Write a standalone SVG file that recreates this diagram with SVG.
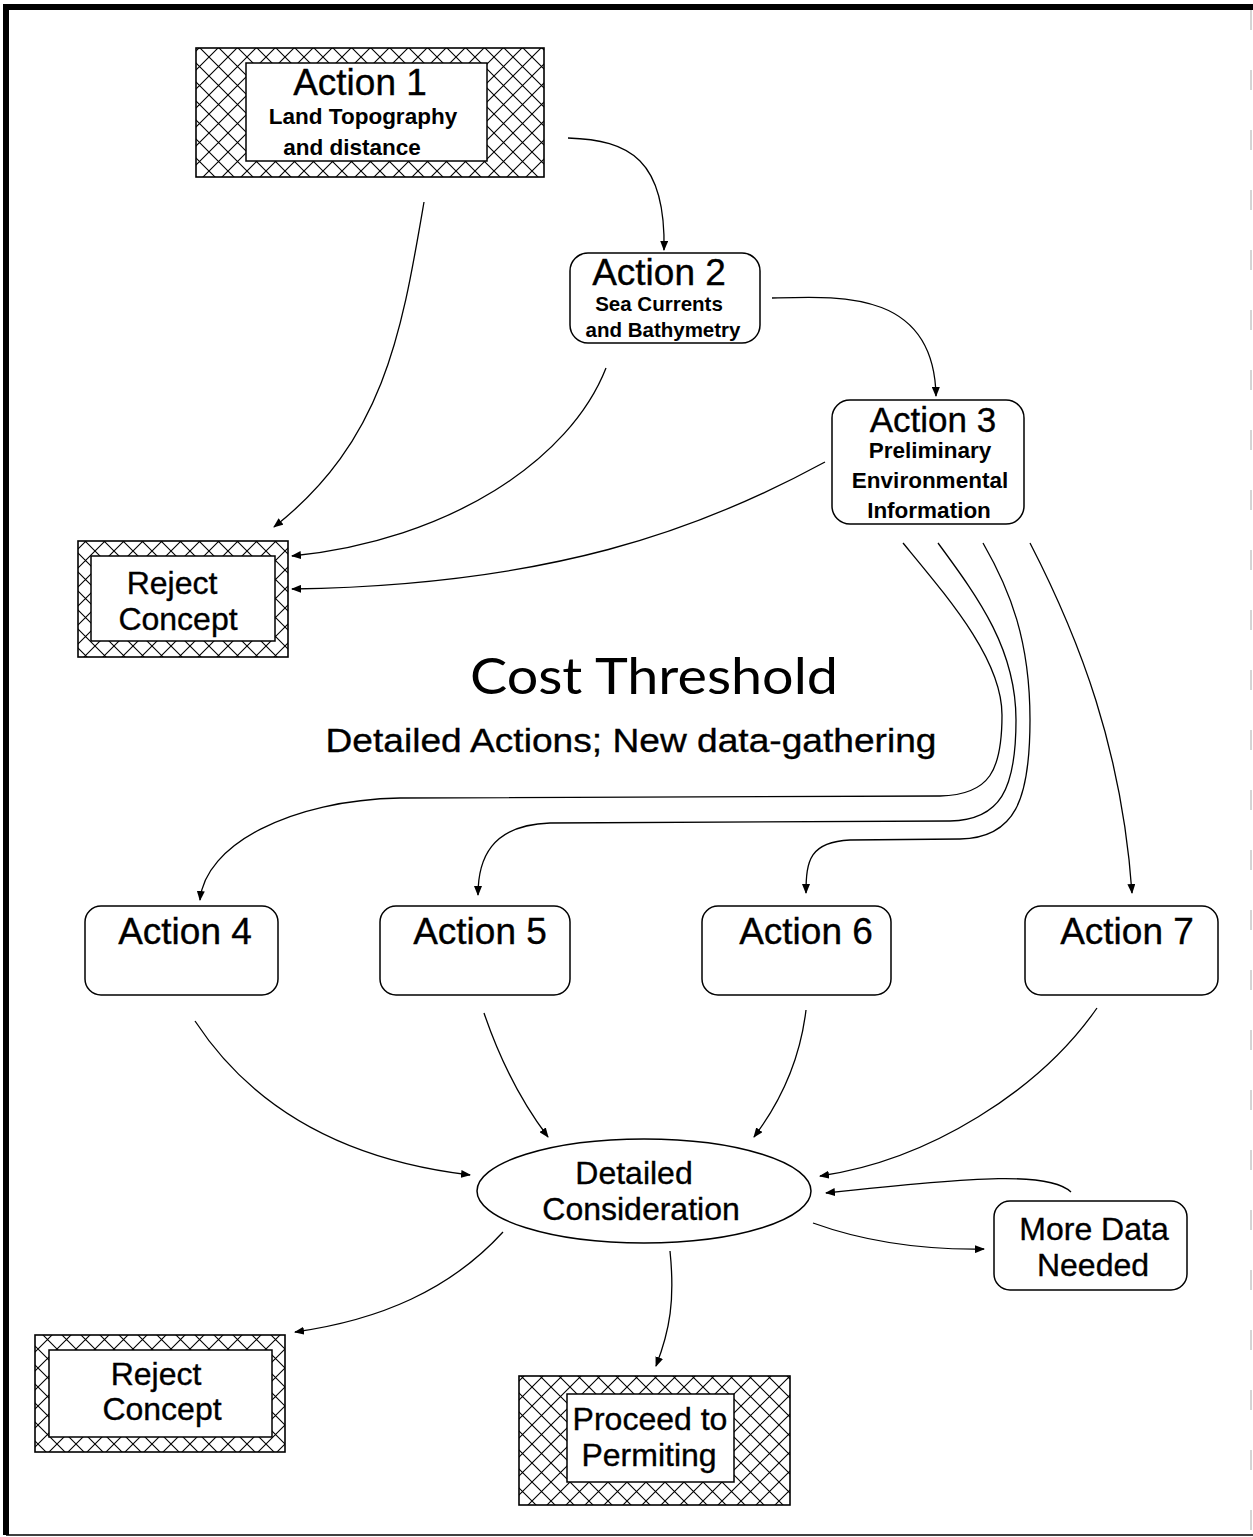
<svg xmlns="http://www.w3.org/2000/svg" width="1253" height="1537" viewBox="0 0 1253 1537">
  <style>
    .box { fill: #fff; stroke: #000; stroke-width: 1.5; }
    .hatch { fill: url(#xhatch); stroke: #000; stroke-width: 1.6; }
    .t { font-family: "Liberation Sans", Arial, sans-serif; fill: #000; text-anchor: middle; stroke: #000; stroke-width: 0.35; }
    .big { font-size: 37px; }
    .mid { font-size: 32px; }
    .sm { font-size: 22.5px; font-weight: bold; stroke-width: 0; }
    .xs { font-size: 20.5px; font-weight: bold; stroke-width: 0; }
    .edge { fill: none; stroke: #000; stroke-width: 1.3; marker-end: url(#arrow); }
  </style>
  <defs>
    <pattern id="xhatch" patternUnits="userSpaceOnUse" width="19" height="19">
      <rect width="19" height="19" fill="#fff"/>
      <path d="M0,0 L19,19 M19,0 L0,19" stroke="#000" stroke-width="1.1"/>
    </pattern>
    <marker id="arrow" viewBox="0 0 10 8" refX="9" refY="4" markerWidth="10" markerHeight="8" markerUnits="userSpaceOnUse" orient="auto">
      <path d="M0,0 L10,4 L0,8 Z" fill="#000"/>
    </marker>
  </defs>

  <!-- page frame -->
  <rect width="1253" height="1537" fill="#fff"/>
  <g id="frame">
    <line x1="3" y1="7" x2="1253" y2="7" stroke="#000" stroke-width="6"/>
    <line x1="6" y1="4" x2="6" y2="1535" stroke="#000" stroke-width="6"/>
    <line x1="6" y1="1535" x2="1253" y2="1535" stroke="#000" stroke-width="1.5"/>
    <line x1="1251" y1="10" x2="1251" y2="1535" stroke="#aaa" stroke-width="1" stroke-dasharray="20,40"/>
  </g>

  <!-- connectors -->
  <g id="connectors">
    <path class="edge" d="M568,138 C630,140 666,160 664,250"/>
    <path class="edge" d="M424,202 C402,330 385,440 274,527"/>
    <path class="edge" d="M606,368 C570,460 450,540 292,556"/>
    <path class="edge" d="M772,298 C840,296 934,290 936,396"/>
    <path class="edge" d="M825,462 C700,530 550,585 292,589"/>
    <path class="edge" d="M903,543 C950,600 1002,660 1002,715 C1002,770 990,795 940,796 L400,798 C290,800 205,845 200,900"/>
    <path class="edge" d="M938,543 C980,600 1016,650 1016,720 C1016,790 1000,820 950,821 L550,823 C490,825 478,860 478,895"/>
    <path class="edge" d="M983,543 C1010,590 1030,640 1030,720 C1030,800 1015,838 960,839 L850,840 C810,842 806,860 806,893"/>
    <path class="edge" d="M1030,543 C1080,640 1122,750 1132,893"/>
    <path class="edge" d="M195,1021 C260,1120 360,1162 470,1175"/>
    <path class="edge" d="M484,1013 C500,1060 520,1100 548,1137"/>
    <path class="edge" d="M806,1010 C800,1060 782,1100 754,1137"/>
    <path class="edge" d="M1097,1008 C1040,1090 930,1160 820,1176"/>
    <path class="edge" d="M1071,1192 C1050,1172 980,1176 826,1193"/>
    <path class="edge" d="M813,1223 C860,1240 920,1250 984,1249"/>
    <path class="edge" d="M503,1232 C450,1290 380,1320 295,1332"/>
    <path class="edge" d="M670,1251 C675,1300 670,1330 656,1366"/>
  </g>

  <!-- Action 1 -->
  <g id="action1">
    <rect class="hatch" x="196" y="48" width="348" height="129"/>
    <rect class="box" x="246" y="63" width="241" height="98"/>
    <text class="t big" x="360" y="95">Action 1</text>
    <text class="t sm" x="363" y="124">Land Topography</text>
    <text class="t sm" x="352" y="155">and distance</text>
  </g>

  <!-- Action 2 -->
  <g id="action2">
    <rect class="box" x="570" y="253" width="190" height="90" rx="18"/>
    <text class="t big" x="659" y="285">Action 2</text>
    <text class="t xs" x="659" y="311">Sea Currents</text>
    <text class="t xs" x="663" y="337">and Bathymetry</text>
  </g>

  <!-- Action 3 -->
  <g id="action3">
    <rect class="box" x="832" y="400" width="192" height="124" rx="18"/>
    <text class="t" x="933" y="432" font-size="35">Action 3</text>
    <text class="t sm" x="930" y="458">Preliminary</text>
    <text class="t sm" x="930" y="488">Environmental</text>
    <text class="t sm" x="929" y="518">Information</text>
  </g>

  <!-- Reject Concept (upper) -->
  <g id="reject1">
    <rect class="hatch" x="78" y="541" width="210" height="116"/>
    <rect class="box" x="91" y="556" width="184" height="85"/>
    <text class="t mid" x="172" y="594">Reject</text>
    <text class="t mid" x="178" y="630">Concept</text>
  </g>

  <!-- threshold heading -->
  <g id="threshold">
    <text x="654" y="694" font-family="Lato, 'Liberation Sans', sans-serif" font-size="50" text-anchor="middle" textLength="368" lengthAdjust="spacingAndGlyphs">Cost Threshold</text>
    <text class="t" x="631" y="752" font-size="34" textLength="611" lengthAdjust="spacingAndGlyphs">Detailed Actions; New data-gathering</text>
  </g>

  <!-- Actions 4-7 -->
  <g id="action4">
    <rect class="box" x="85" y="906" width="193" height="89" rx="16"/>
    <text class="t big" x="185" y="944">Action 4</text>
  </g>
  <g id="action5">
    <rect class="box" x="380" y="906" width="190" height="89" rx="16"/>
    <text class="t big" x="480" y="944">Action 5</text>
  </g>
  <g id="action6">
    <rect class="box" x="702" y="906" width="189" height="89" rx="16"/>
    <text class="t big" x="806" y="944">Action 6</text>
  </g>
  <g id="action7">
    <rect class="box" x="1025" y="906" width="193" height="89" rx="16"/>
    <text class="t big" x="1127" y="944">Action 7</text>
  </g>

  <!-- Detailed Consideration -->
  <g id="consideration">
    <ellipse class="box" cx="644" cy="1191" rx="167" ry="52"/>
    <text class="t mid" x="634" y="1184">Detailed</text>
    <text class="t mid" x="641" y="1220">Consideration</text>
  </g>

  <!-- More Data Needed -->
  <g id="moredata">
    <rect class="box" x="994" y="1201" width="193" height="89" rx="16"/>
    <text class="t mid" x="1094" y="1240">More Data</text>
    <text class="t mid" x="1093" y="1276">Needed</text>
  </g>

  <!-- Reject Concept (lower) -->
  <g id="reject2">
    <rect class="hatch" x="35" y="1335" width="250" height="117"/>
    <rect class="box" x="49" y="1350" width="223" height="87"/>
    <text class="t mid" x="156" y="1385">Reject</text>
    <text class="t mid" x="162" y="1420">Concept</text>
  </g>

  <!-- Proceed to Permiting -->
  <g id="proceed">
    <rect class="hatch" x="519" y="1376" width="271" height="129"/>
    <rect class="box" x="567" y="1394" width="167" height="88"/>
    <text class="t mid" x="650" y="1430">Proceed to</text>
    <text class="t mid" x="649" y="1466">Permiting</text>
  </g>
</svg>
